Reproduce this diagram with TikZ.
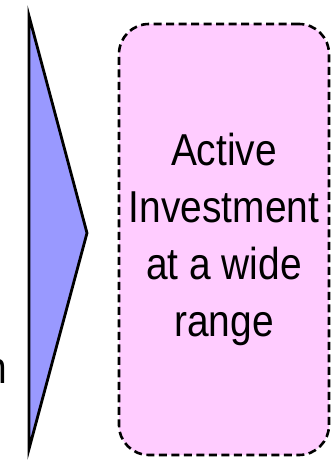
\documentclass[tikz,border=0pt]{standalone}
\usepackage{fontspec}
\newfontfamily\narrowfont[FakeStretch=0.87]{Liberation Sans}
\definecolor{triblue}{RGB}{153,153,255}
\definecolor{boxpink}{RGB}{255,204,255}
\tikzset{
  bigtext/.style={font=\narrowfont\fontsize{44.7}{57}\selectfont},
  pinkbox/.style={draw=black, fill=boxpink, line width=2.6pt, dash pattern=on 8pt off 4.5pt,
    rounded corners=30pt, minimum width=210pt, minimum height=431pt, inner sep=0pt,
    align=center, bigtext},
  arrowshape/.style={draw=black, fill=triblue, line width=2.8pt, line join=miter}
}
\begin{document}
\begin{tikzpicture}[x=1pt,y=-1pt]
\useasboundingbox (0,0) rectangle (331,460);
\coordinate (ttop) at (29,16);
\coordinate (ttip) at (87,233);
\coordinate (tbot) at (29,449);
\draw[arrowshape] (ttop) -- (ttip) -- (tbot) -- cycle;
\node[pinkbox] (box) at (224,239.5) {Active\\Investment\\at a wide\\range};
\node[bigtext, anchor=base east, inner sep=0pt] (cut) at (7.5,383) {n};
\end{tikzpicture}
\end{document}
